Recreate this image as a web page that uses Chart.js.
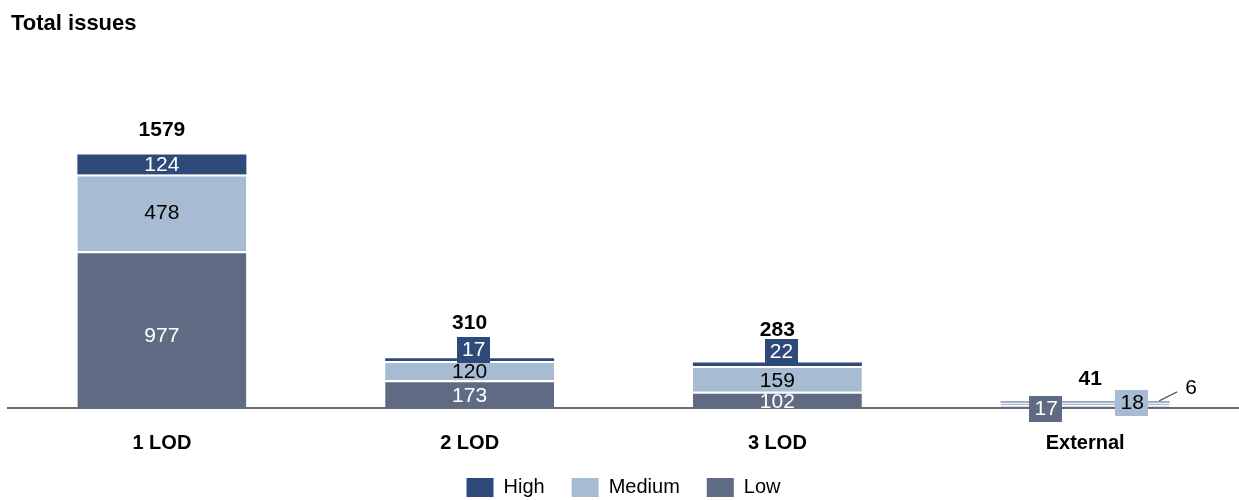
<!DOCTYPE html>
<html><head><meta charset="utf-8">
<script src="https://cdn.jsdelivr.net/npm/chart.js@4.4.1/dist/chart.umd.min.js"></script>
<style>html,body{margin:0;padding:0;background:#fff}#wrap{width:1239px;height:500px;position:relative}canvas{display:block}</style>
</head><body><div id="wrap"><canvas id="c" width="1239" height="500"></canvas></div>
<script>
// ---- data ----
const chartTitle = 'Total issues';
const categories = ['1 LOD', '2 LOD', '3 LOD', 'External'];
const seriesNames = ['Low', 'Medium', 'High'];
const lowValues = [977, 173, 102, 17];
const mediumValues = [478, 120, 159, 18];
const highValues = [124, 17, 22, 6];
const totalValues = [1579, 310, 283, 41];

// ---- styles ----
const FONT = '"Liberation Sans", Arial, Helvetica, sans-serif';
const seriesColors = ['#5F6B82', '#A7BCD2', '#2E4A7B'];
// label placement: 'in' = centred in segment, 'box' = boxed callout, 'call' = outside with leader
const labelMode = [
  ['in', 'in', 'in', 'box'],
  ['in', 'in', 'in', 'box'],
  ['in', 'box', 'box', 'call']
];
const labelColor = [
  ['#fff', '#fff', '#fff', '#fff'],
  ['#000', '#000', '#000', '#000'],
  ['#fff', '#fff', '#fff', '#000']
];
const labelOffset = [
  [[0, 7], [0, 2.5], [0, 2], [-39, 2.4]],
  [[0, 0.5], [0, 1.5], [0, 2], [47, -1]],
  [[0, 0.5], [4, -9.5], [4, -12.3], [106, -14]]
];
const totalOffset = [[0, -24.5], [0, -35], [0, -32.5], [5, -22]];
const LEGEND_BOX_CENTER = 487.5;

const labelPlugin = {
  id: 'segLabels',
  afterDatasetsDraw(chart) {
    const ctx = chart.ctx;
    ctx.save();
    ctx.textAlign = 'center';
    ctx.textBaseline = 'middle';
    chart.data.datasets.forEach((ds, di) => {
      const meta = chart.getDatasetMeta(di);
      meta.data.forEach((el, j) => {
        const txt = String(ds.data[j]);
        const mode = labelMode[di][j];
        const off = labelOffset[di][j];
        const cx = el.x + off[0];
        const cy = (el.y + el.base) / 2 + off[1];
        ctx.font = '21px ' + FONT;
        if (mode === 'box') {
          const w = ctx.measureText(txt).width + 10, h = 26;
          ctx.fillStyle = ds.backgroundColor;
          ctx.fillRect(Math.round(cx - w / 2), Math.round(cy - h / 2), Math.round(w), h);
        } else if (mode === 'call') {
          const ey = (el.y + el.base) / 2;
          ctx.strokeStyle = '#595959';
          ctx.lineWidth = 1.2;
          ctx.beginPath();
          ctx.moveTo(el.x + 74, ey - 1);
          ctx.lineTo(el.x + 92, ey - 10);
          ctx.stroke();
        }
        ctx.fillStyle = labelColor[di][j];
        ctx.fillText(txt, cx, cy);
      });
    });
    // totals
    const topMeta = chart.getDatasetMeta(chart.data.datasets.length - 1);
    ctx.font = 'bold 21px ' + FONT;
    ctx.fillStyle = '#000';
    totalValues.forEach((t, j) => {
      const el = topMeta.data[j];
      ctx.fillText(String(t), el.x + totalOffset[j][0], el.y + totalOffset[j][1]);
    });
    // title
    ctx.textAlign = 'left';
    ctx.textBaseline = 'alphabetic';
    ctx.font = 'bold 22px ' + FONT;
    ctx.fillText(chartTitle, 11, 30);
    ctx.restore();
  }
};

// moves the legend row so its swatches sit where the reference has them
const legendShift = {
  id: 'legendShift',
  afterLayout(chart) {
    const lg = chart.legend;
    if (!lg) return;
    const lp = lg.options.labels.padding;
    const d = (LEGEND_BOX_CENTER - (lp + 10)) - lg.top;
    lg.top += d;
    lg.bottom += d;
  }
};

const seriesData = [lowValues, mediumValues, highValues];
const datasets = seriesNames.map((name, i) => ({
  label: name,
  data: seriesData[i],
  backgroundColor: seriesColors[i],
  borderColor: '#ffffff',
  borderWidth: i < 2 ? { top: 2, bottom: 0, left: 0, right: 0 } : 0,
  borderSkipped: false
}));

new Chart(document.getElementById('c'), {
  type: 'bar',
  data: { labels: categories, datasets },
  options: {
    responsive: false,
    animation: false,
    devicePixelRatio: 1,
    layout: { padding: { left: 8, right: 0, top: 87, bottom: -36 } },
    datasets: { bar: { categoryPercentage: 1, barPercentage: 0.549 } },
    scales: {
      x: {
        stacked: true,
        grid: { display: false, drawTicks: false },
        border: { display: true, color: '#6b6b6b', width: 2 },
        ticks: { color: '#000', font: { family: FONT, size: 20, weight: 'bold' }, padding: 23.5 }
      },
      y: { stacked: true, display: false, min: 0, max: 2000 }
    },
    plugins: {
      tooltip: { enabled: false },
      legend: {
        position: 'bottom',
        reverse: true,
        labels: {
          boxWidth: 27, boxHeight: 19, padding: 27, color: '#000',
          font: { family: FONT, size: 20 },
          generateLabels(chart) {
            const items = Chart.defaults.plugins.legend.labels.generateLabels(chart);
            items.forEach(it => { it.lineWidth = 0; });
            return items;
          }
        }
      }
    }
  },
  plugins: [labelPlugin, legendShift]
});
</script>
</body></html>
